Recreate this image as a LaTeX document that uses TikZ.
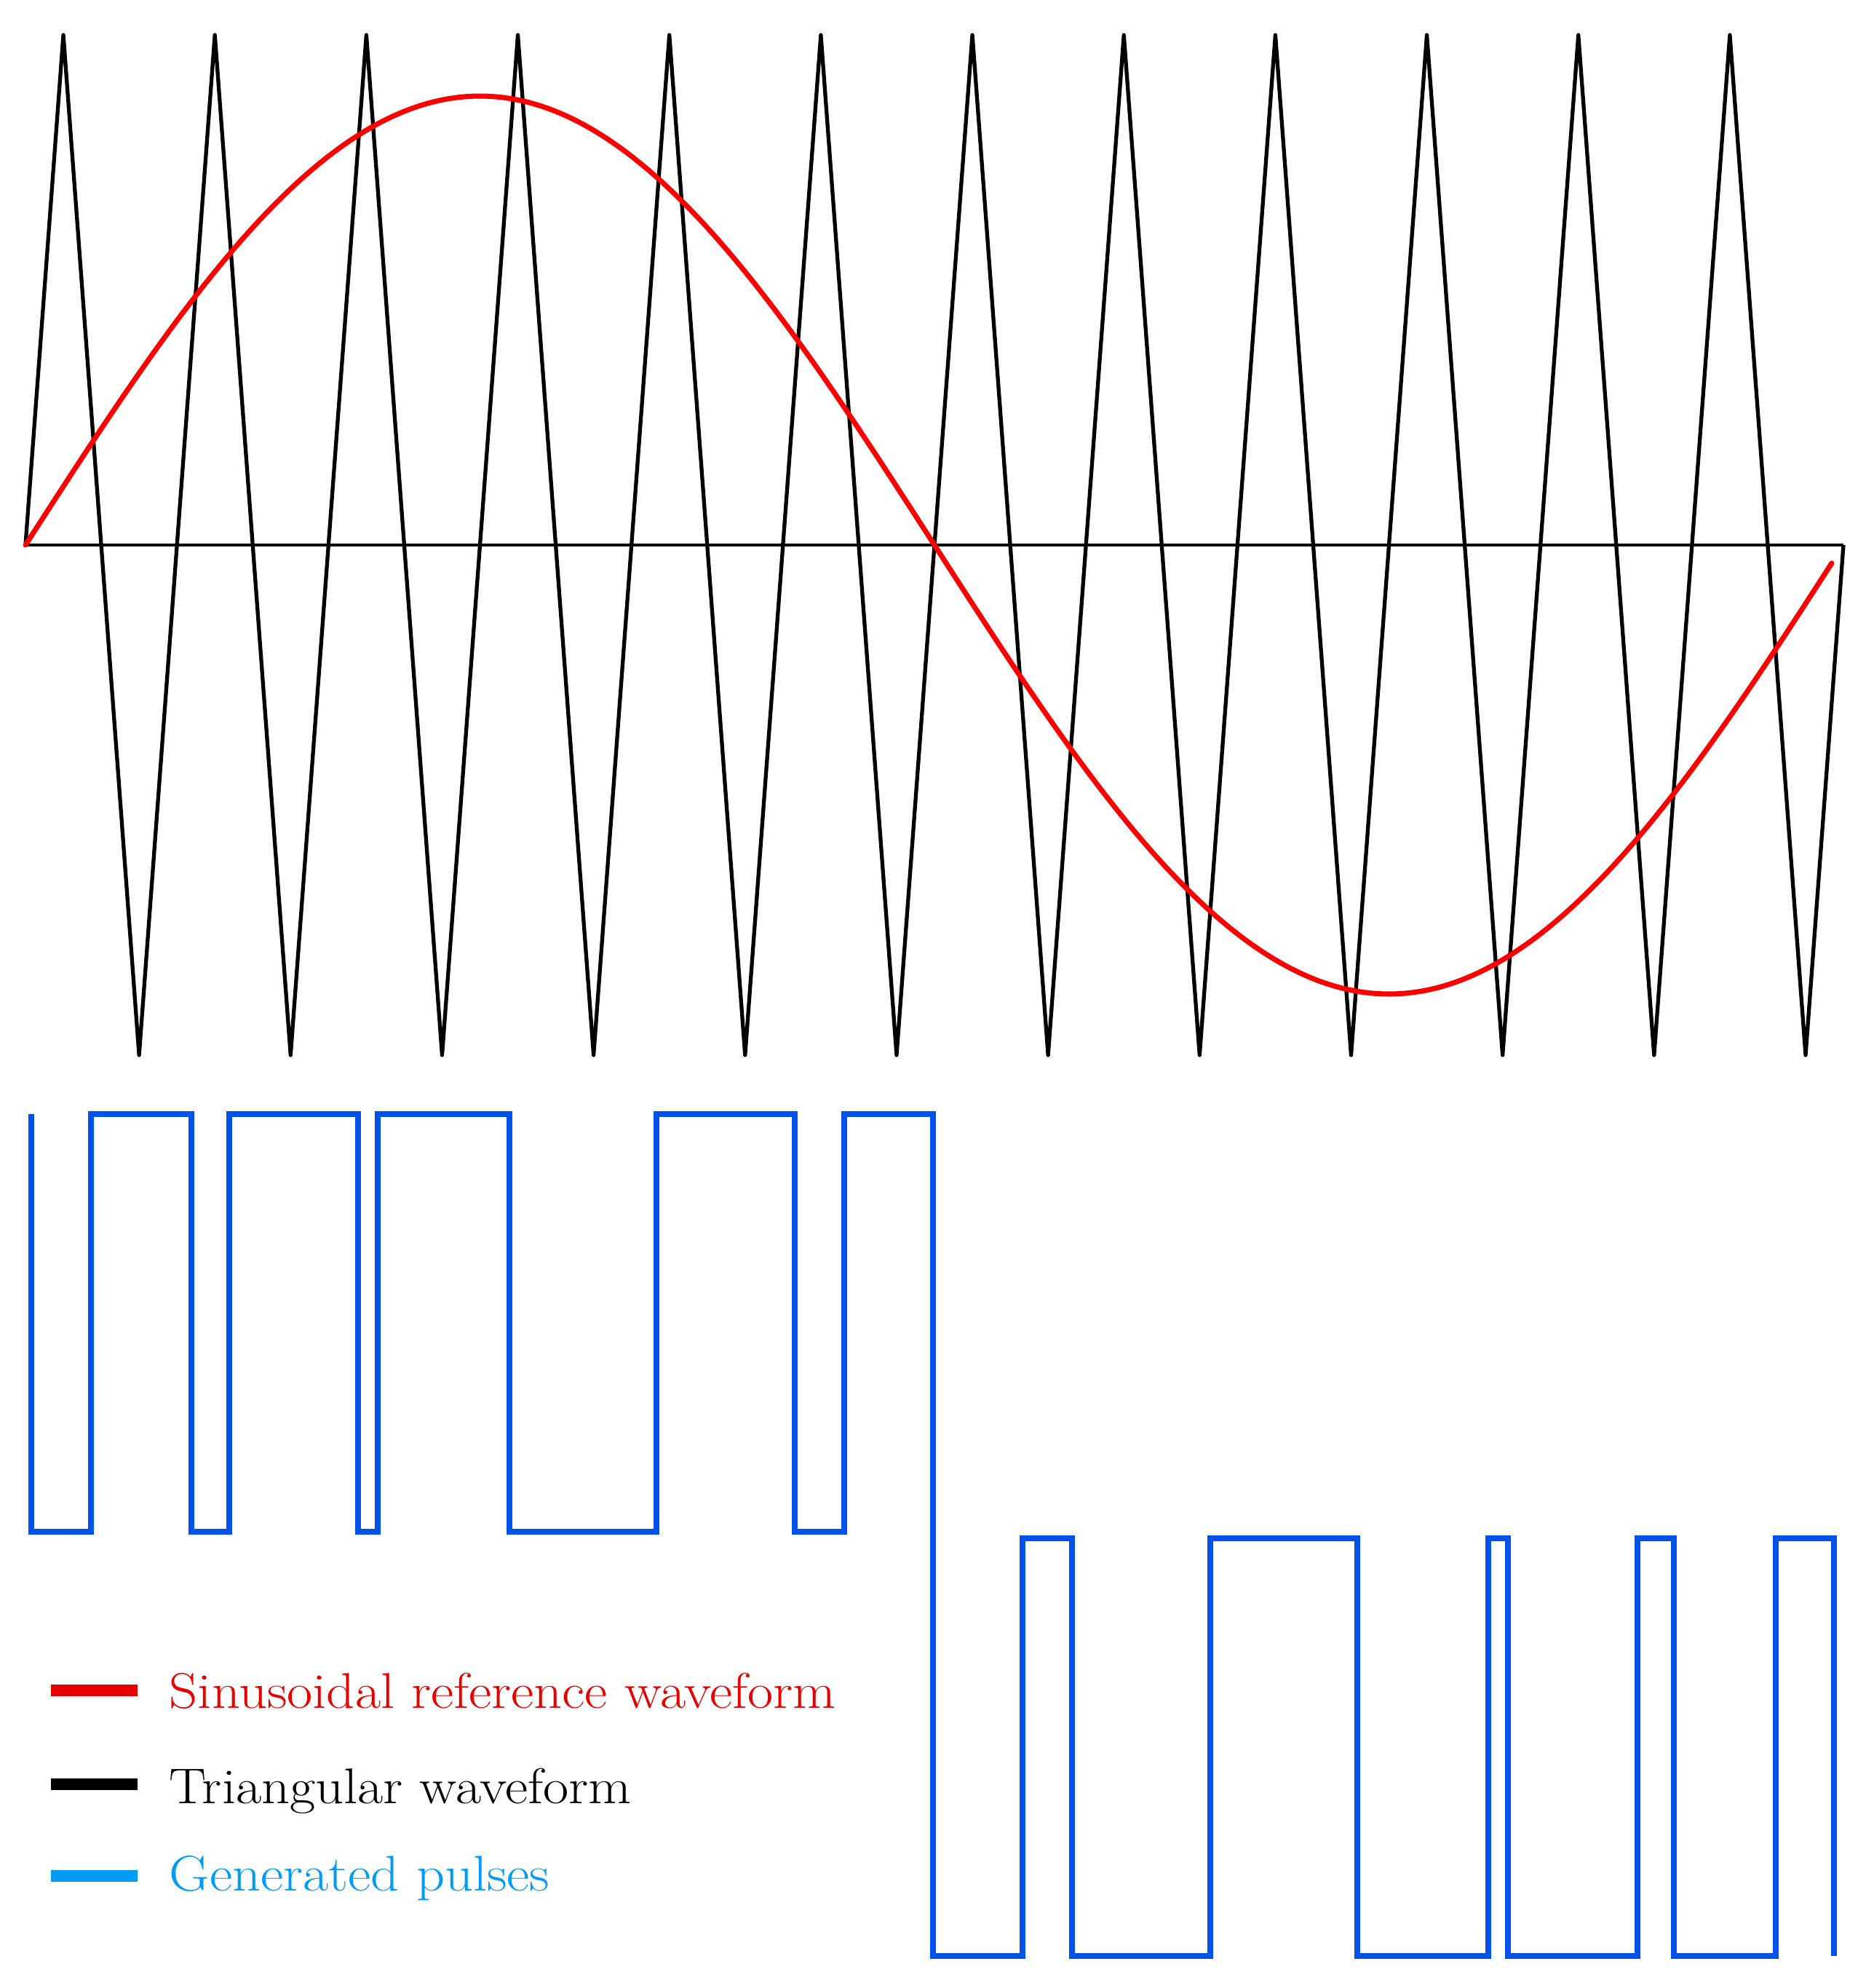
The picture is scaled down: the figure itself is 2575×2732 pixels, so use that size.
\documentclass[tikz,border=0pt]{standalone}
\begin{document}
\begin{tikzpicture}[x=0.01cm,y=-0.01cm,
  tri/.style={line width=1.5pt,black,line join=round},
  sine/.style={line width=2pt,red,line cap=round},
  pulse/.style={line width=2.05pt,pulseblue,line join=miter},
  legbar/.style={line width=4.8pt},
  legtext/.style={anchor=base west,inner sep=0pt,xscale=1.11,font=\fontsize{19.6}{23}\selectfont}]
\definecolor{pulseblue}{RGB}{0,82,232}
\definecolor{legblue}{RGB}{0,155,245}
\definecolor{legred}{RGB}{230,0,0}
\useasboundingbox (0,0) rectangle (2575,2732);
\fill[white] (0,0) rectangle (2575,2732);
% axis
\draw[line width=1.4pt,black] (35,749) -- (2533,749);
% triangular carrier
\draw[tri] (35,749) \foreach \k in {0,...,11} { -- ({35+(\k+0.25)*208.17},48) -- ({35+(\k+0.75)*208.17},1450) } -- (2533,749);
% sinusoidal reference
\draw[sine,domain=0:357.7,samples=240,smooth,variable=\t] plot ({35+\t/360*2498},{749-617*sin(\t)});
% generated pulses, first half
\draw[pulse] (43,1531) -- (43,2105) -- (125,2105) -- (125,1531) -- (263,1531) -- (263,2105)
  -- (315,2105) -- (315,1531) -- (492,1531) -- (492,2105) -- (519,2105) -- (519,1531)
  -- (700,1531) -- (700,2105) -- (902,2105) -- (902,1531) -- (1092,1531) -- (1092,2105)
  -- (1160,2105) -- (1160,1531) -- (1282,1531) -- (1282,2688)
% second half
  -- (1405,2688) -- (1405,2114) -- (1473,2114) -- (1473,2688) -- (1663,2688) -- (1663,2114)
  -- (1865,2114) -- (1865,2688) -- (2045,2688) -- (2045,2114) -- (2072,2114) -- (2072,2688)
  -- (2250,2688) -- (2250,2114) -- (2300,2114) -- (2300,2688) -- (2440,2688) -- (2440,2114)
  -- (2520,2114) -- (2520,2688);
% legend
\coordinate (r1) at (70,2323); \coordinate (r2) at (189,2323);
\coordinate (b1) at (70,2452); \coordinate (b2) at (189,2452);
\coordinate (g1) at (70,2578); \coordinate (g2) at (189,2578);
\draw[legbar,legred] (r1) -- (r2);
\draw[legbar,black] (b1) -- (b2);
\draw[legbar,legblue] (g1) -- (g2);
\node[legtext,text=legred] (lsin) at (232,2347) {Sinusoidal reference waveform};
\node[legtext,text=black] (ltri) at (232,2478) {Triangular waveform};
\node[legtext,text=legblue] (lpul) at (232,2598) {Generated pulses};
\end{tikzpicture}
\end{document}
